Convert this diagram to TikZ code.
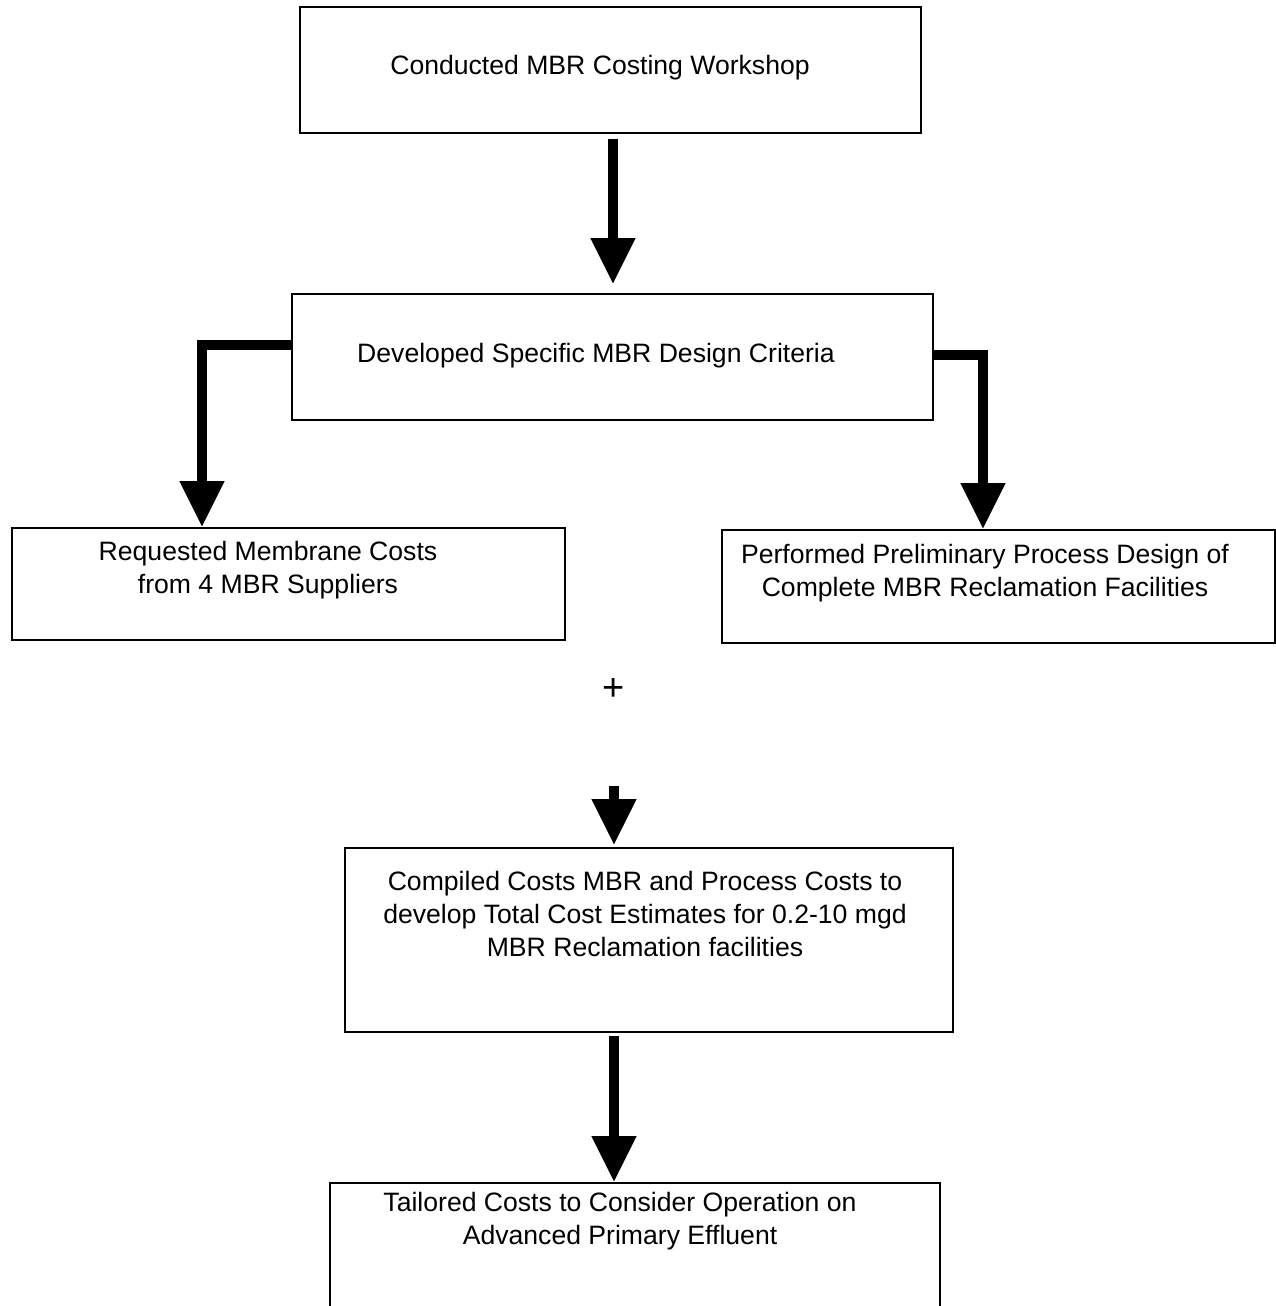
\documentclass[tikz,border=0pt]{standalone}
\usepackage{fontspec}
\setmainfont{Liberation Sans}
\usetikzlibrary{arrows.meta, calc}

\begin{document}
\begin{tikzpicture}[
    x=0.5pt, y=-0.5pt,
    font=\fontsize{13.3}{16.5}\selectfont,
    box/.style={
        rectangle, draw=black, line width=0.8pt, fill=white,
        inner sep=0pt
    },
    txt/.style={align=center, inner sep=0pt},
    fat/.style={
        line width=5pt, line join=miter, draw=black,
        -{Triangle[length=23pt, width=21pt]}
    },
]

% =====================================================================
% LAYOUT: one spine at x=613 (pixel units, y grows downward),
% two side columns at x=202 (left) and x=983 (right).
% =====================================================================
\useasboundingbox (0,0) rectangle (1275,1306);

\coordinate (spine) at (613, 0);
\coordinate (lft)   at (202, 0);
\coordinate (rgt)   at (983, 0);

% --- Boxes -----------------------------------------------------------
\node[box, minimum width=310.5pt, minimum height=63pt] (work) at (610.5,  70)   {};
\node[box, minimum width=320.5pt, minimum height=63pt] (crit) at (612.5, 357)   {};
\node[box, minimum width=276.5pt, minimum height=56pt] (req)  at (288.5, 584)   {};
\node[box, minimum width=276.5pt, minimum height=56.5pt] (perf) at (998.5, 586.5) {};
\node[box, minimum width=304pt,   minimum height=92pt] (comp) at (649,   940)   {};
\node[box, minimum width=305pt,   minimum height=80pt] (tail) at (635,  1263)   {};

% --- Texts -----------------------------------------------------------
\node[txt] (worktxt) at (600,  68)  {Conducted MBR Costing Workshop};
\node[txt] (crittxt) at (596, 356)  {Developed Specific MBR Design Criteria};
\node[txt] (reqtxt)  at (268, 570)  {Requested Membrane Costs\\from 4 MBR Suppliers};
\node[txt] (perftxt) at (985, 573)  {Performed Preliminary Process Design of\\Complete MBR Reclamation Facilities};
\node[txt] (comptxt) at (645, 914)  {Compiled Costs MBR and Process Costs to\\develop Total Cost Estimates for 0.2-10 mgd\\MBR Reclamation facilities};
\node[txt] (tailtxt) at (620, 1221) {Tailored Costs to Consider Operation on\\Advanced Primary Effluent};

\node[txt, font=\fontsize{19}{21}\selectfont] (plus) at (614, 690) {+};
\coordinate (join) at (614, 786);

% =====================================================================
% Arrows
% =====================================================================
\draw[fat, shorten <=2.5pt, shorten >=4.5pt] (work.south -| spine) -- (crit.north -| spine);

% side branches
\draw[fat] ([yshift=6pt]crit.west) -| (req.north -| lft);
\draw[fat] ([yshift=1pt]crit.east) -| (perf.north -| rgt);

% merge into compiled costs
\draw[fat, shorten >=1pt] (join) -- (comp.north -| join);
\draw[fat, shorten <=1.5pt] (comp.south -| join) -- (tail.north -| join);

\end{tikzpicture}
\end{document}
